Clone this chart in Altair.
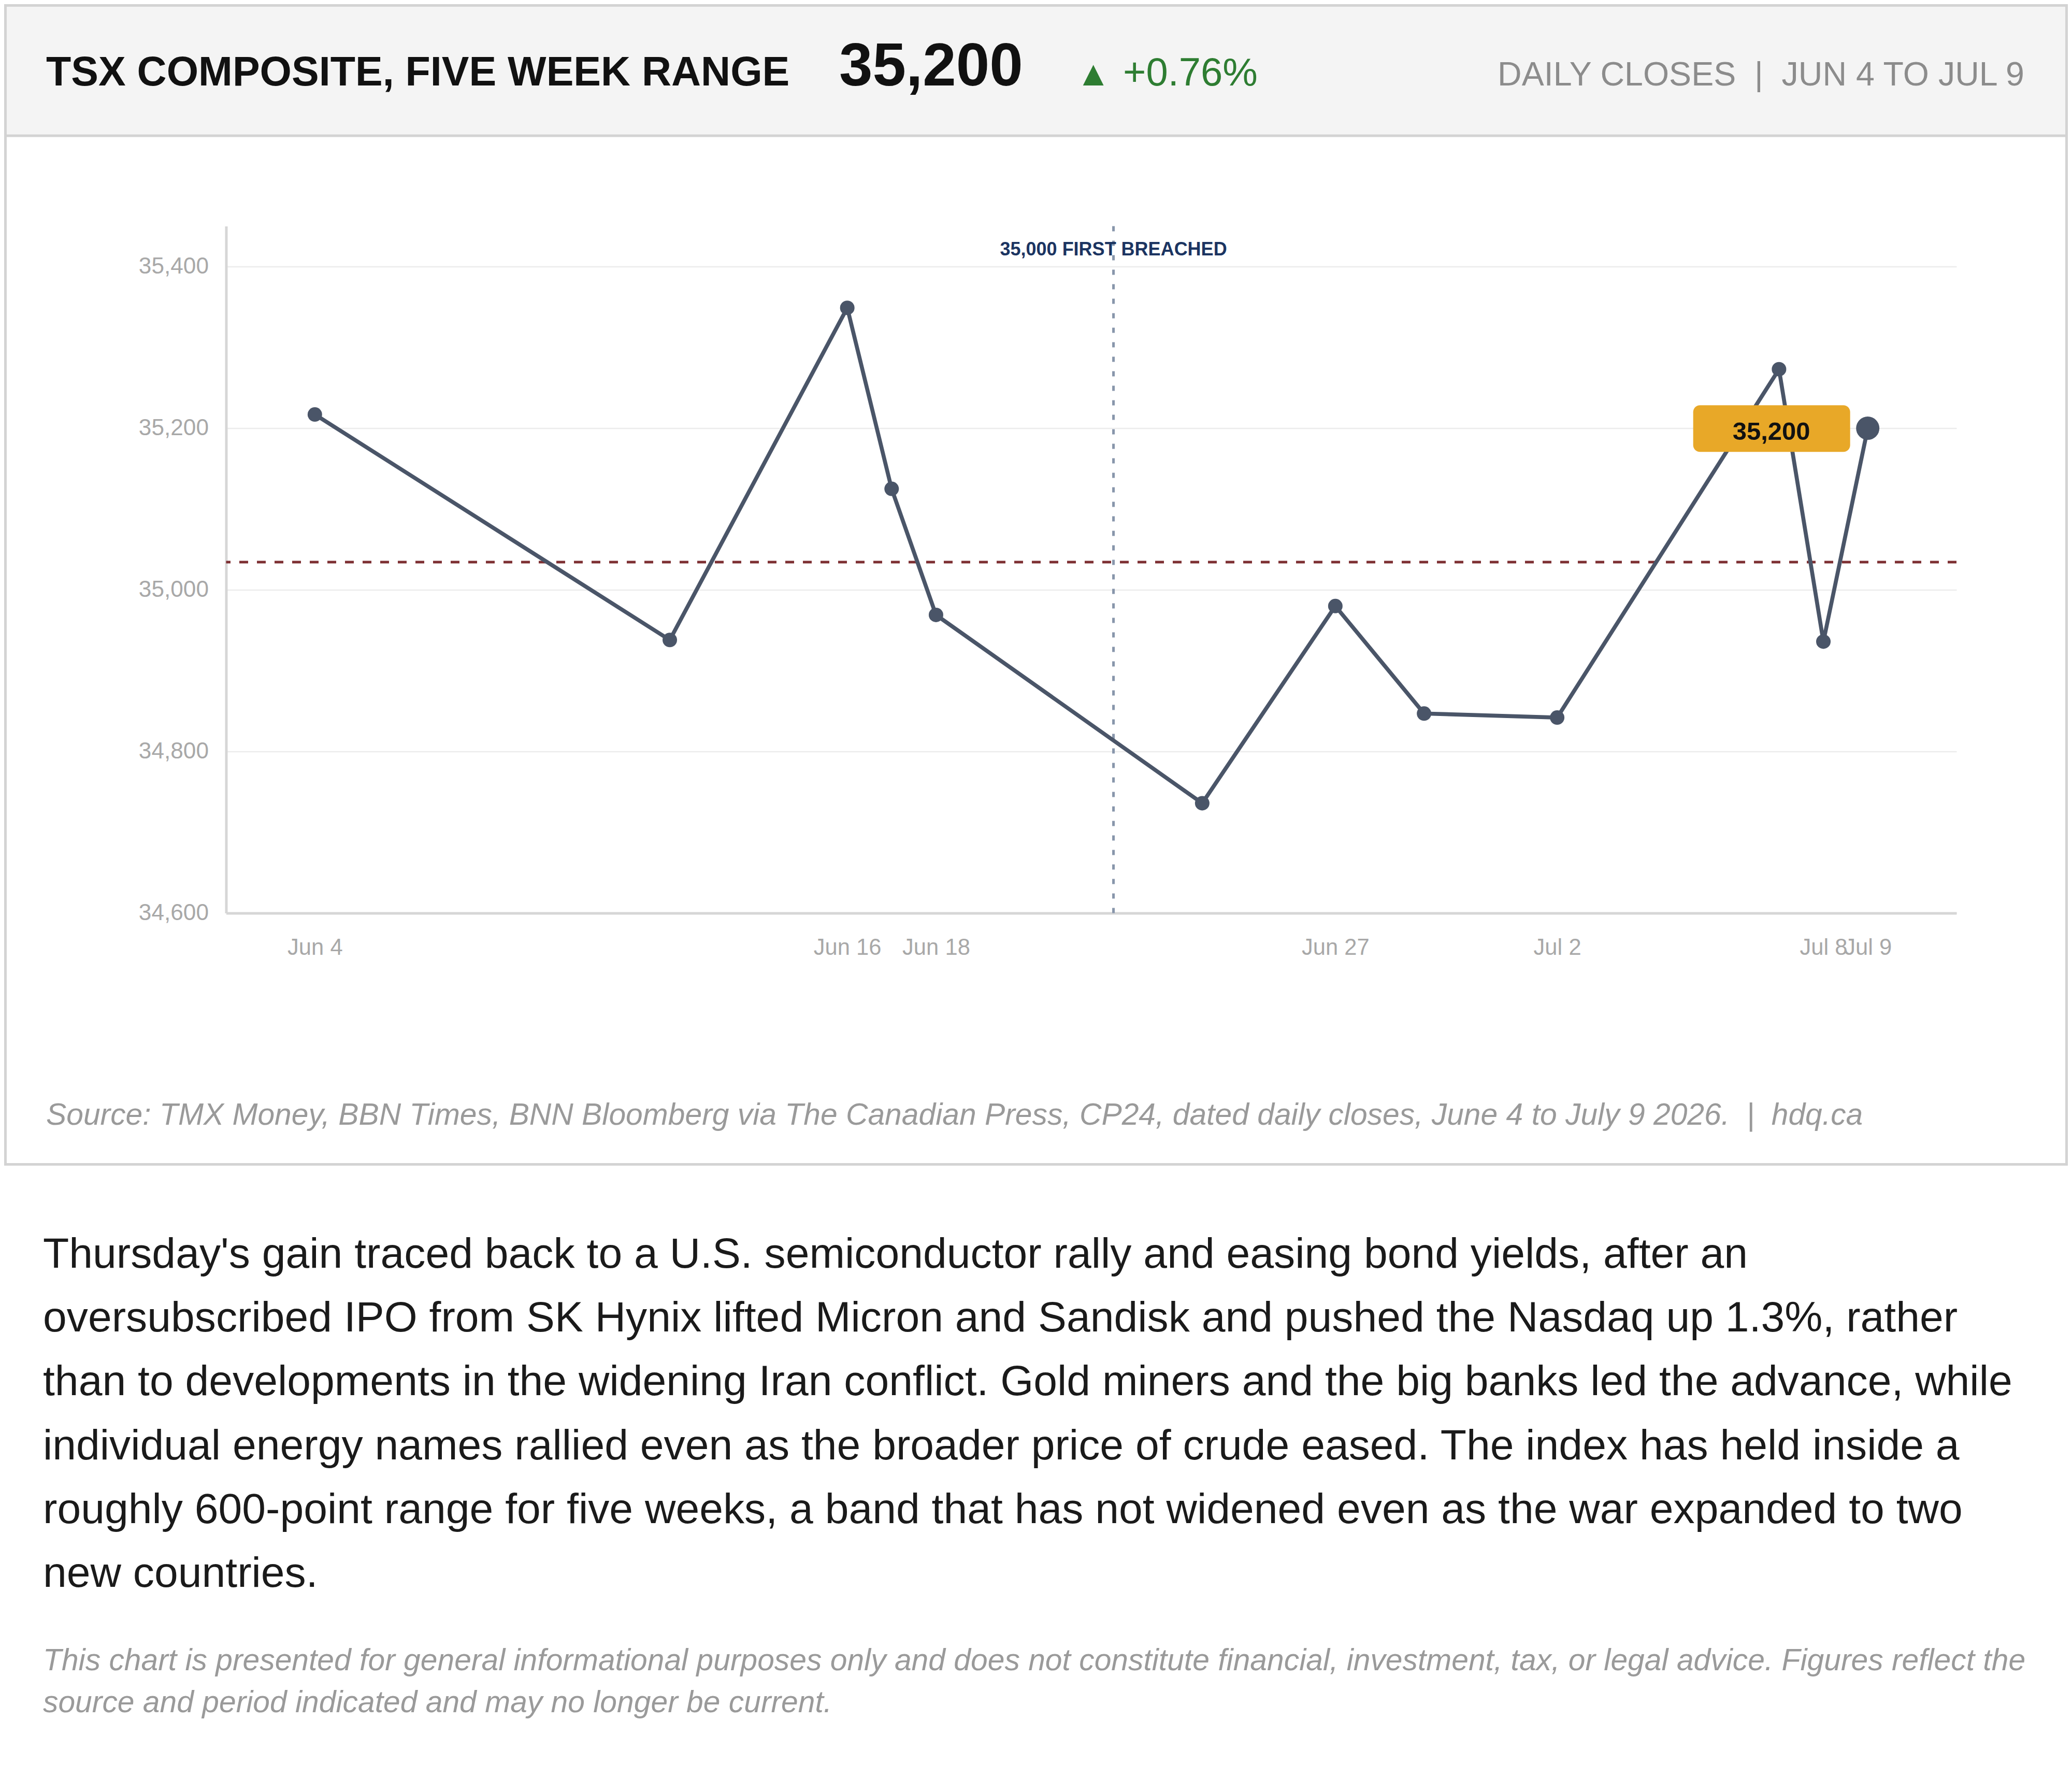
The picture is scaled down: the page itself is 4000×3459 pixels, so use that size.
import altair as alt
import pandas as pd

# ---------------- data ----------------
dates = ["2026/06/04", "2026/06/12", "2026/06/16", "2026/06/17", "2026/06/18", "2026/06/24",
         "2026/06/27", "2026/06/29", "2026/07/02", "2026/07/07", "2026/07/08", "2026/07/09"]
closes = [35217, 34938, 35349, 35125, 34969, 34736, 34980, 34847, 34842, 35273, 34936, 35200]

tick_dates = [(6, 4), (6, 16), (6, 18), (6, 27), (7, 2), (7, 8), (7, 9)]
y_ticks = [34600, 34800, 35000, 35200, 35400]
y_domain = [34600, 35450]

event_dates = ["2026/06/22"]
event_labels = ["35,000 FIRST BREACHED"]

NB = "\u00a0"
title_text = "TSX COMPOSITE, FIVE WEEK RANGE"
headline_value = "35,200"
change_arrow = "\u25B2"
change_text = "+0.76%"
subtitle_text = "DAILY CLOSES" + NB * 2 + "|" + NB * 2 + "JUN 4 TO JUL 9"
source_text = ("Source: TMX Money, BBN Times, BNN Bloomberg via The Canadian Press, CP24, "
               "dated daily closes, June 4 to July 9 2026." + NB * 2 + "|" + NB * 2 + "hdq.ca")
body_lines = [
    "Thursday's gain traced back to a U.S. semiconductor rally and easing bond yields, after an",
    "oversubscribed IPO from SK Hynix lifted Micron and Sandisk and pushed the Nasdaq up 1.3%, rather",
    "than to developments in the widening Iran conflict. Gold miners and the big banks led the advance, while",
    "individual energy names rallied even as the broader price of crude eased. The index has held inside a",
    "roughly 600-point range for five weeks, a band that has not widened even as the war expanded to two",
    "new countries.",
]
disclaimer_lines = [
    "This chart is presented for general informational purposes only and does not constitute financial, "
    "investment, tax, or legal advice. Figures reflect the",
    "source and period indicated and may no longer be current.",
]

# ---------------- layout ----------------
FONT = "Liberation Sans"
OX, OY = 436.5, 436.6          # plot origin (page pixels)
W, H = 3340.5, 1326.0          # plot area
TOTAL_W, TOTAL_H = 3984, 3443


def rx(v):
    return v - OX


def ry(v):
    return v - OY


df = pd.DataFrame({"date": dates, "close": closes})
last_df = df.tail(1)
ev_df = pd.DataFrame({"date": event_dates, "label": event_labels})
one = pd.DataFrame({"k": [0]})

x_scale = alt.Scale(domain=[alt.DateTime(year=2026, month=6, date=2),
                            alt.DateTime(year=2026, month=7, date=11)])
y_scale = alt.Scale(domain=y_domain, nice=False, zero=False)

x_axis = alt.Axis(values=[alt.DateTime(year=2026, month=m, date=d) for m, d in tick_dates],
                  format="%b %-d", grid=False, labelOverlap=False, labelFlush=False,
                  ticks=False, tickSize=0, labelPadding=46, domainColor="#d6d6d6", domainWidth=5,
                  labelFontSize=43.6, labelColor="#a8a8a8", labelFont=FONT)
y_axis = alt.Axis(values=y_ticks, format=",.0f", grid=True, gridColor="#ececec", gridWidth=2.5,
                  ticks=False, tickSize=0, labelPadding=34, domainColor="#d6d6d6", domainWidth=5,
                  labelFontSize=44.2, labelColor="#a8a8a8", labelFont=FONT)

X = alt.X("date:T", scale=x_scale, axis=x_axis, title="")
Y = alt.Y("close:Q", scale=y_scale, axis=y_axis, title="")


def box(x1, y1, x2, y2, **kw):
    return alt.Chart(one).mark_rect(**kw).encode(
        x=alt.value(rx(x1)), x2=alt.value(rx(x2)), y=alt.value(ry(y1)), y2=alt.value(ry(y2)))


def label(text, x, y, **kw):
    kw.setdefault("font", FONT)
    kw.setdefault("baseline", "alphabetic")
    kw.setdefault("align", "left")
    return alt.Chart(one).mark_text(**kw).encode(
        x=alt.value(rx(x)), y=alt.value(ry(y)), text=alt.value(text))


# header + card
header_bg = box(0, 0, 4000, 262, color="#f4f4f4")
header_line = box(0, 259.5, 4000, 264.5, color="#d3d3d3")
card = box(10.5, 10.5, 3989.5, 2247.5, fill="#ffffff", fillOpacity=0, stroke="#d3d3d3", strokeWidth=5)

t_title = label(title_text, 89, 165, fontSize=79, fontWeight="bold", color="#111111")
t_value = label(headline_value, 1620, 165, fontSize=116, fontWeight="bold", color="#111111")
t_arrow = label(change_arrow, 2077, 165, fontSize=68, color="#2e7d32")
t_change = label(change_text, 2168, 165, fontSize=76, color="#2e7d32")
t_sub = label(subtitle_text, 3908, 165, fontSize=64.5, color="#8c8c8c", align="right")
t_source = label(source_text, 89, 2170.5, fontSize=58.8, fontStyle="italic", color="#9a9a9a")
t_body = label(body_lines, 83, 2447, fontSize=82.3, lineHeight=123.2, color="#1a1a1a")
t_disc = label(disclaimer_lines, 83, 3224, fontSize=58.8, lineHeight=80.5, fontStyle="italic",
               color="#9a9a9a")

# chart layers
base = alt.Chart(df)
event_rule = alt.Chart(ev_df).mark_rule(color="#8896ab", strokeWidth=5, strokeDash=[10, 18]).encode(
    x=alt.X("date:T", scale=x_scale, axis=x_axis, title=""))
event_text = alt.Chart(ev_df).mark_text(font=FONT, fontSize=36, fontWeight="bold", color="#1b3461",
                                        baseline="alphabetic", align="center").encode(
    x=alt.X("date:T", scale=x_scale, axis=x_axis, title=""), y=alt.value(ry(493.3)), text="label:N")
mean_rule = base.mark_rule(color="#7d2f32", strokeWidth=5, strokeDash=[17, 17]).encode(
    y=alt.Y("mean(close):Q", scale=y_scale, axis=y_axis, title=""))
line = base.mark_line(color="#4a5568", strokeWidth=7.7).encode(x=X, y=Y)
points = base.mark_circle(color="#4a5568", size=784, opacity=1).encode(x=X, y=Y)
tag_box = alt.Chart(last_df).mark_rect(color="#e8a828", cornerRadius=13, xOffset=-337, x2Offset=-34,
                                       yOffset=-44.3, y2Offset=45.7).encode(
    x=X, x2="date", y=Y, y2="close")
tag_text = alt.Chart(last_df).mark_text(font=FONT, fontSize=49, fontWeight="bold", color="#111111",
                                        align="center", baseline="alphabetic", dx=-186, dy=22).encode(
    x=X, y=Y, text=alt.Text("close:Q", format=","))
last_point = alt.Chart(last_df).mark_circle(color="#4a5568", size=2025, opacity=1).encode(x=X, y=Y)

chart = alt.layer(
    header_bg, header_line, card,
    event_rule, mean_rule, line, points, tag_box, tag_text, last_point, event_text,
    t_title, t_value, t_arrow, t_change, t_sub, t_source, t_body, t_disc,
).properties(
    width=W, height=H,
    autosize=alt.AutoSizeParams(type="none"),
    padding={"left": OX - 8, "top": OY - 8, "right": TOTAL_W - (OX - 8) - W,
             "bottom": TOTAL_H - (OY - 8) - H},
    background="#ffffff",
).configure_view(strokeWidth=0)

chart.save("out.html", embed_options={"renderer": "svg", "actions": False})
